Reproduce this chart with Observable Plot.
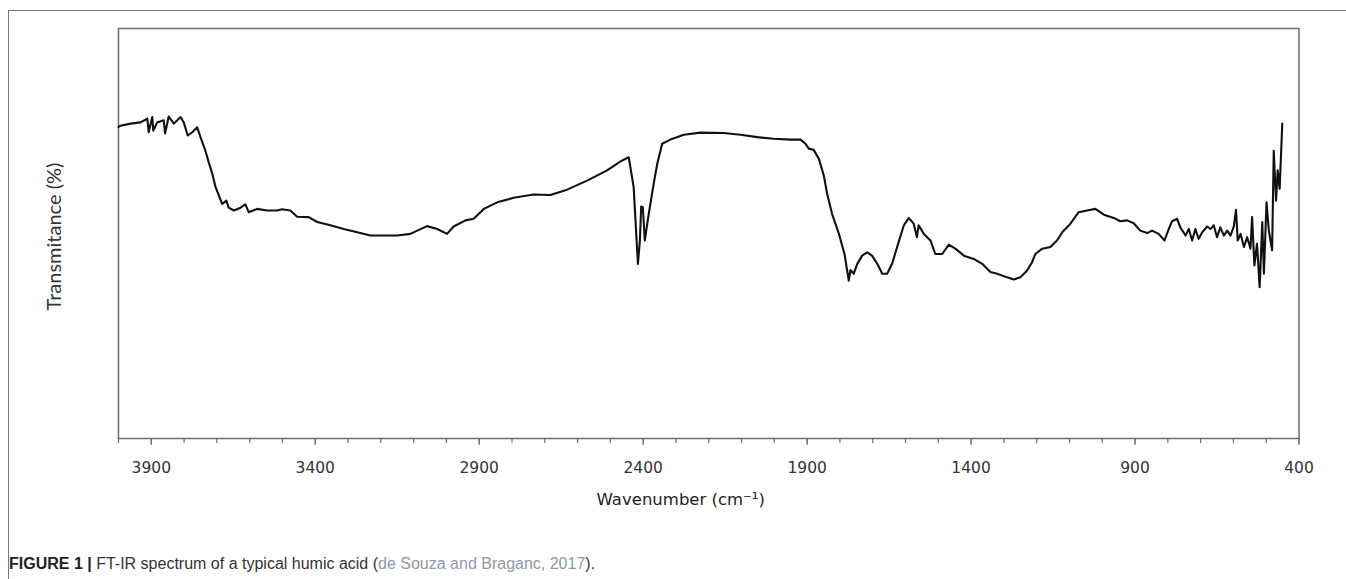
<!DOCTYPE html>
<html>
<head>
<meta charset="utf-8">
<script src="https://cdn.jsdelivr.net/npm/d3@7"></script>
<script src="https://cdn.jsdelivr.net/npm/@observablehq/plot@0.6"></script>
<style>
  html, body { margin: 0; padding: 0; background: #fff; }
  body { width: 1346px; height: 579px; position: relative; overflow: hidden; }
  #frame { position: absolute; left: 8px; top: 10px; width: 1400px; height: 600px;
           border-left: 1.5px solid #7a7a7a; border-top: 1.5px solid #7a7a7a; }
  #chart { position: absolute; left: 0; top: 0; }
  #caption { position: absolute; left: 9px; top: 555px; font-family: "Liberation Sans Narrow", "Liberation Sans", Arial, sans-serif;
             font-size: 16px; color: #333; white-space: nowrap; }
  #caption b { color: #222; }
  #caption .cite { color: #8a9aa8; }
</style>
</head>
<body>
<div id="frame"></div>
<div id="chart"></div>
<div id="caption"><b>FIGURE 1 |</b> FT-IR spectrum of a typical humic acid (<span class="cite">de Souza and Braganc, 2017</span>).</div>
<script>
// Wavenumber (cm-1)
const wavenumber = [4000,3994,3963,3933,3912,3908,3897,3894,3882,3862,3858,3847,3831,3811,3801,3789,3775,3760,3750,3735,3725,3714,3704,3694,3684,3671,3664,3648,3628,3613,3603,3577,3547,3516,3501,3476,3455,3420,3394,3354,3313,3272,3232,3191,3150,3110,
3089,3059,3028,2998,2978,2942,2917,2886,2845,2795,2734,2683,2632,2571,2510,2469,2444,2429,2416,2410,2406,2401,2395,2383,2368,2357,2342,2317,2276,2225,
2154,2103,2052,2002,1951,1920,1905,1895,1880,1864,1849,1839,1824,1803,1786,1773,1768,1758,1747,1732,1717,1702,1686,1671,1656,1641,1621,1605,1590,1575,1565,1560,1544,1524,1509,1488,1468,1448,1422,1392,1366,1341,
1320,1290,1270,1250,1229,1214,1204,1183,1158,1138,1122,1097,1072,1046,1021,995,965,945,924,904,884,863,848,828,810,797,787,772,762,746,736,726,716,706,695,680,670,660,650,640,629,619,609,599,592,587,578,568,558,548,543,536,528,520,512,507,499,492,482,477,470,465,459,451];
// Transmittance (%), relative scale
const transmittance = [76.0,76.3,76.8,77.1,78.0,74.7,78.4,75.1,77.1,77.6,74.4,78.5,76.8,78.4,77.1,73.9,74.7,75.9,73.5,70.2,67.4,64.6,61.3,59.3,57.2,58.0,56.3,55.6,56.3,57.1,55.2,56.0,55.6,55.6,55.9,55.6,54.1,54.0,52.8,52.0,51.1,50.3,49.5,49.5,49.5,49.9,
50.7,51.8,51.1,49.9,51.7,53.2,53.6,56.0,57.6,58.7,59.5,59.4,60.7,62.9,65.4,67.6,68.6,61.3,42.6,48.3,56.6,56.4,48.3,54.8,62.1,67.0,71.9,72.9,74.1,74.6,
74.5,74.1,73.5,73.1,72.9,72.9,71.9,70.7,70.4,68.2,64.1,59.7,54.8,49.9,45.0,38.5,41.1,40.2,42.6,44.6,45.4,44.6,42.6,40.2,40.2,42.6,47.9,52.0,53.8,52.4,49.1,52.0,49.9,48.3,45.0,45.0,47.3,46.3,44.6,43.8,42.6,40.6,
40.2,39.3,38.8,39.3,41.0,43.0,45.0,46.3,46.7,48.3,50.3,52.4,55.2,55.6,56.0,54.6,53.8,53.0,53.2,52.5,50.7,50.1,50.7,49.9,48.3,51.1,53.0,53.6,51.5,49.5,51.1,48.3,51.1,48.7,50.3,51.7,51.1,52.0,49.1,51.5,49.5,50.7,49.5,51.7,55.8,48.3,49.9,46.7,49.1,46.3,54.0,42.2,47.5,36.9,52.8,40.2,57.6,50.7,45.9,70.2,58.0,65.4,60.9,76.8];

const xDomain = [4000, 400];
const yDomain = [0, 100];
const minorTicks = d3.range(400, 4001, 100);
const tickLabels = [3900, 3400, 2900, 2400, 1900, 1400, 900, 400];
const xLabel = "Wavenumber (cm\u207B\u00B9)";
const yLabel = "Transmitance (%)";

const spectrum = wavenumber.map((w, i) => ({wn: w, t: transmittance[i]}));

const chart = Plot.plot({
  width: 1346,
  height: 520,
  marginLeft: 118,
  marginRight: 47.5,
  marginTop: 28,
  marginBottom: 82,
  style: {background: "transparent", fontFamily: "DejaVu Sans, Verdana, sans-serif"},
  x: {domain: xDomain, label: null},
  y: {domain: yDomain, axis: null},
  marks: [
    Plot.frame({stroke: "#6e6e6e", strokeWidth: 1.5}),
    Plot.axisX({ticks: minorTicks, tickSize: 5, tickFormat: () => "", stroke: "#6e6e6e", strokeWidth: 1.2}),
    Plot.axisX({ticks: tickLabels, tickSize: 7, tickPadding: 16, tickFormat: d => String(d), fontSize: 15.5, fill: "#333", stroke: "#6e6e6e", strokeWidth: 1.2}),
    Plot.line(spectrum, {x: "wn", y: "t", stroke: "#111", strokeWidth: 2.1, strokeLinejoin: "round"}),
    Plot.text([xLabel], {frameAnchor: "bottom", text: d => d, dy: 66, dx: -28, fontSize: 16.5, fill: "#222", fontFamily: "DejaVu Sans, Verdana, sans-serif"}),
    Plot.text([yLabel], {frameAnchor: "left", text: d => d, rotate: -90, textAnchor: "middle", dx: -64, dy: 3, fontSize: 20, fill: "#333", fontFamily: "Lato"})
  ]
});
document.getElementById("chart").appendChild(chart);
</script>
</body>
</html>
